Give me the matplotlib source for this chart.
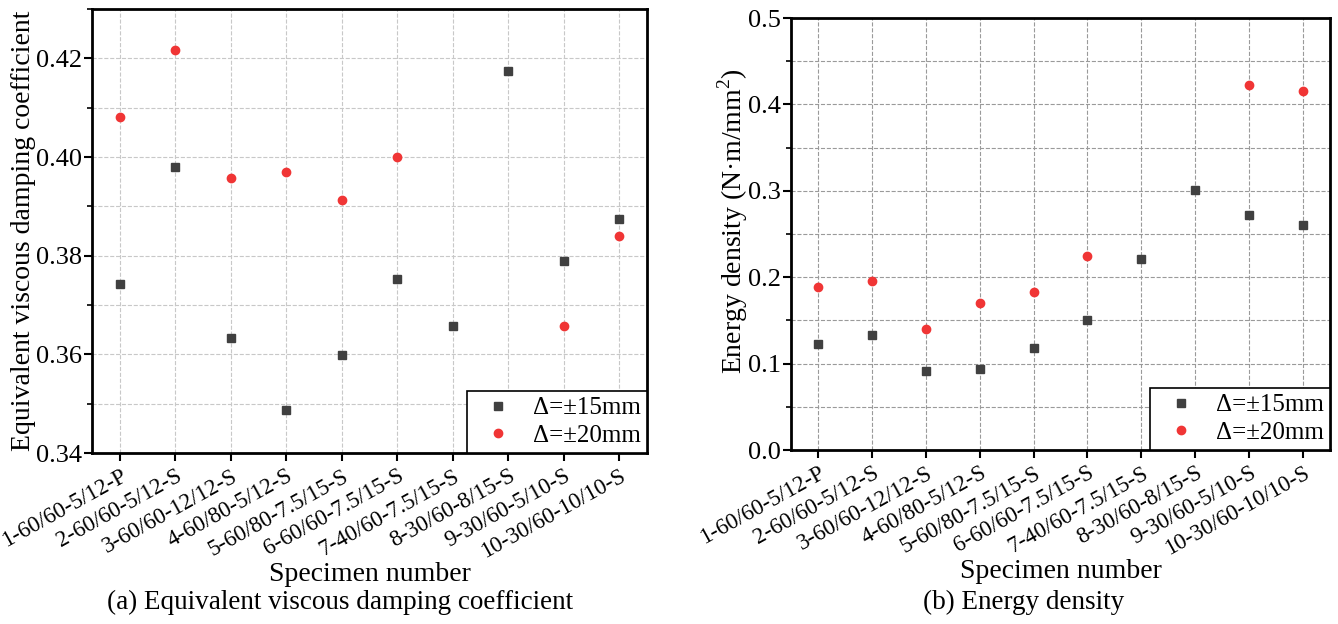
import matplotlib
matplotlib.use('Agg')
import matplotlib.pyplot as plt
from matplotlib.ticker import MultipleLocator
import numpy as np

plt.rcParams['font.family'] = ['Liberation Serif', 'DejaVu Serif']
plt.rcParams['mathtext.fontset'] = 'custom'
plt.rcParams['mathtext.rm'] = 'Liberation Serif'

# 试件编号
specimens = ['1-60/60-5/12-P', '2-60/60-5/12-S', '3-60/60-12/12-S', '4-60/80-5/12-S',
             '5-60/80-7.5/15-S', '6-60/60-7.5/15-S', '7-40/60-7.5/15-S', '8-30/60-8/15-S',
             '9-30/60-5/10-S', '10-30/60-10/10-S']

# (a) 等效粘滞阻尼系数
damp_15 = [0.3743, 0.3980, 0.3634, 0.3487, 0.3598, 0.3752, 0.3657, 0.4174, 0.3789, 0.3875]
damp_20 = [0.4081, 0.4216, 0.3958, 0.3970, 0.3913, 0.4000, np.nan, np.nan, 0.3657, 0.3840]

# (b) 能量密度
energy_15 = [0.123, 0.133, 0.092, 0.094, 0.118, 0.150, 0.221, 0.301, 0.272, 0.261]
energy_20 = [0.189, 0.196, 0.140, 0.170, 0.183, 0.225, np.nan, np.nan, 0.422, 0.416]

x = np.arange(1, len(specimens) + 1)
serif = 'Liberation Serif'

fig = plt.figure(figsize=(13.38, 6.24), dpi=100)
ax1 = fig.add_axes([0.0688, 0.274, 0.4148, 0.7115])
ax2 = fig.add_axes([0.5912, 0.2788, 0.4028, 0.6923])

def style(ax, y15, y20, ylim, major, minor, fmt, ylabel, gridc):
    ax.plot(x, y15, 's', color='#404040', ms=6, ls='none', label='Δ=±15mm', zorder=3)
    ax.plot(x, y20, 'o', color='#f03535', ms=6, ls='none', label='Δ=±20mm', zorder=3)
    ax.set_xlim(0.5, 10.5)
    ax.set_ylim(*ylim)
    ax.set_xticks(x)
    ax.set_xticklabels(specimens, rotation=29, ha='right', rotation_mode='anchor',
                       fontsize=16.5, family=serif)
    ax.yaxis.set_major_locator(MultipleLocator(major))
    ax.yaxis.set_minor_locator(MultipleLocator(minor))
    ax.yaxis.set_major_formatter(plt.FormatStrFormatter(fmt))
    ax.tick_params(axis='both', which='major', direction='out', length=6, width=1.5)
    ax.tick_params(axis='x', pad=3)
    ax.tick_params(axis='y', labelsize=19, pad=1)
    ax.tick_params(axis='y', which='minor', direction='out', length=3.5, width=1.2)
    for lab in ax.get_yticklabels():
        lab.set_fontfamily(serif)
    for s in ax.spines.values():
        s.set_linewidth(2)
    ax.grid(True, which='major', ls='--', lw=0.8, color=gridc)
    ax.grid(True, which='minor', axis='y', ls='--', lw=0.8, color=gridc)
    ax.set_axisbelow(True)
    ax.set_xlabel('Specimen number', fontsize=20, labelpad=0)
    ax.set_ylabel(ylabel, fontsize=20, labelpad=0)
    leg = ax.legend(loc='lower right', fontsize=18, frameon=True, fancybox=False,
                    borderaxespad=0, handletextpad=0.4, handlelength=2.0, borderpad=0.25,
                    labelspacing=0.2)
    leg.get_frame().set_edgecolor('black')
    leg.get_frame().set_linewidth(1.2)
    leg.get_frame().set_alpha(1)

style(ax1, damp_15, damp_20, (0.34, 0.43), 0.02, 0.01, '%.2f',
      'Equivalent viscous damping coefficient', '#c8c8c8')
style(ax2, energy_15, energy_20, (0.0, 0.5), 0.1, 0.05, '%.1f',
      'Energy density (N·m/mm$^2$)', '#9a9a9a')
ax2.yaxis.set_label_coords(-0.076, 0.53)

fig.text(0.2545, 0.034, '(a) Equivalent viscous damping coefficient', ha='center',
         va='center', fontsize=19.5)
fig.text(0.765, 0.034, '(b) Energy density', ha='center', va='center', fontsize=19.5)

fig.savefig('out.png', dpi=100)
